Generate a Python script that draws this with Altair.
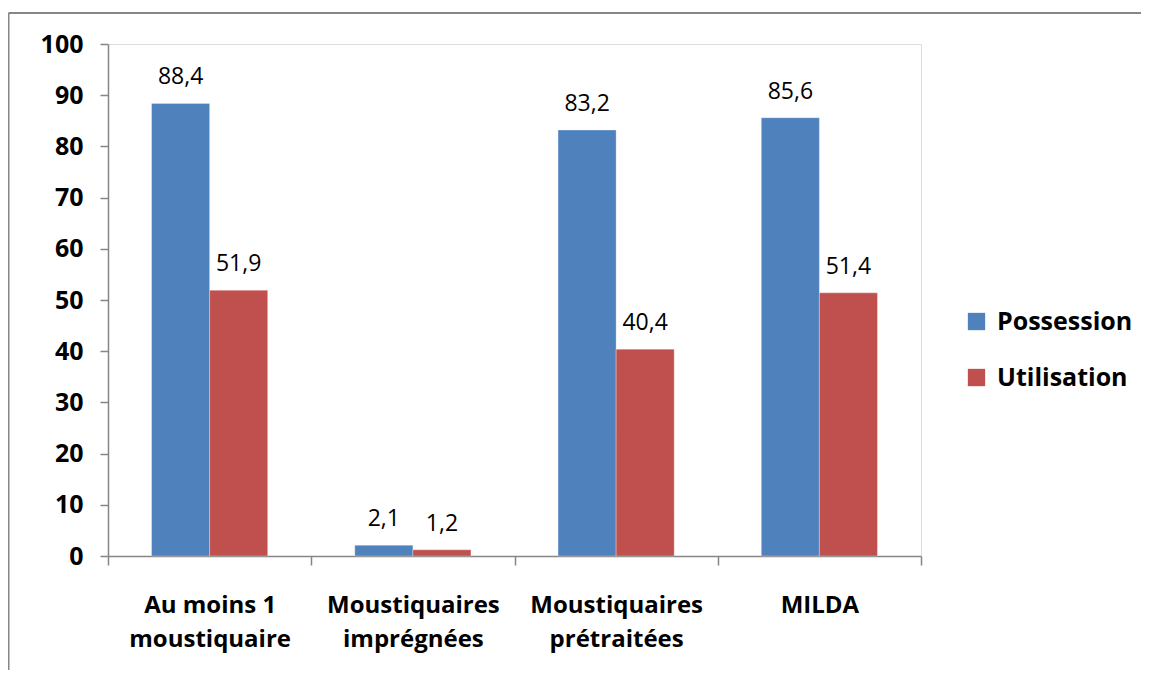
import altair as alt
import pandas as pd

categories = ["Au moins 1\nmoustiquaire", "Moustiquaires\nimprégnées", "Moustiquaires\nprétraitées", "MILDA"]
series = ["Possession", "Utilisation"]
possession = [88.4, 2.1, 83.2, 85.6]
utilisation = [51.9, 1.2, 40.4, 51.4]
colors = ["#4F81BD", "#C0504D"]
y_ticks = [0, 10, 20, 30, 40, 50, 60, 70, 80, 90, 100]

rows = []
for c, p, u in zip(categories, possession, utilisation):
    rows.append({"cat": c, "serie": series[0], "val": p})
    rows.append({"cat": c, "serie": series[1], "val": u})
df = pd.DataFrame(rows)
df["lab"] = df["val"].map(lambda v: f"{v:.1f}".replace(".", ","))

FONT = "Open Sans"
GREY = "#868686"

x_enc = alt.X("cat:N", sort=categories, title=None,
              scale=alt.Scale(paddingInner=0, paddingOuter=0),
              axis=alt.Axis(labelExpr="isValid(datum.value) ? split(datum.value, '\\n') : ''",
                            labelAngle=0,
                            labelFont=FONT, labelFontSize=24, labelFontWeight="bold",
                            labelColor="black", labelLineHeight=34, labelPadding=28,
                            labelBaseline="top",
                            tickBand="extent", tickSize=9, tickColor=GREY, tickWidth=1.5,
                            domainColor=GREY, domainWidth=1.5, grid=False))
xo_enc = alt.XOffset("serie:N", sort=series,
                     scale=alt.Scale(paddingInner=0, paddingOuter=0.75))
y_enc = alt.Y("val:Q", title=None,
              scale=alt.Scale(domain=[0, 100], nice=False),
              axis=alt.Axis(values=y_ticks, labelFont=FONT, labelFontSize=25,
                            labelFontWeight="bold", labelColor="black", labelPadding=17,
                            tickSize=8, tickColor=GREY, tickWidth=1.5,
                            domainColor=GREY, domainWidth=1.5, grid=False))
color_enc = alt.Color("serie:N", sort=series,
                      scale=alt.Scale(domain=series, range=colors),
                      legend=alt.Legend(title=None, orient="none", legendX=856, legendY=265,
                                        symbolType="square", symbolSize=300,
                                        symbolStrokeWidth=0, labelFont=FONT,
                                        labelFontSize=25, labelFontWeight="bold",
                                        labelColor="black", labelOffset=8, rowPadding=30))

base = alt.Chart(df)
bars = base.mark_bar(stroke="white", strokeWidth=0.6, strokeOpacity=0.5).encode(
    x=x_enc, xOffset=xo_enc, y=y_enc, color=color_enc)
texts = base.mark_text(font=FONT, fontSize=23, baseline="bottom", dy=-14, color="black").encode(
    x=x_enc, xOffset=xo_enc, y=y_enc, text="lab:N")

frame_df = pd.DataFrame({"k": [0]})
vline = alt.Chart(frame_df).mark_rule(color=GREY, strokeWidth=2).encode(
    x=alt.value(-99.5), y=alt.value(-31), y2=alt.value(700))
hline = alt.Chart(frame_df).mark_rule(color=GREY, strokeWidth=2).encode(
    x=alt.value(-99.5), x2=alt.value(1100), y=alt.value(-31))

chart = alt.layer(bars, texts, vline, hline).properties(
    width=813, height=512,
    autosize=alt.AutoSizeParams(type="none"),
    padding={"left": 100, "top": 36, "right": 220, "bottom": 114},
).configure_view(stroke=None).configure(background="white")

chart.save("out.html", embed_options={"renderer": "svg", "actions": False})
